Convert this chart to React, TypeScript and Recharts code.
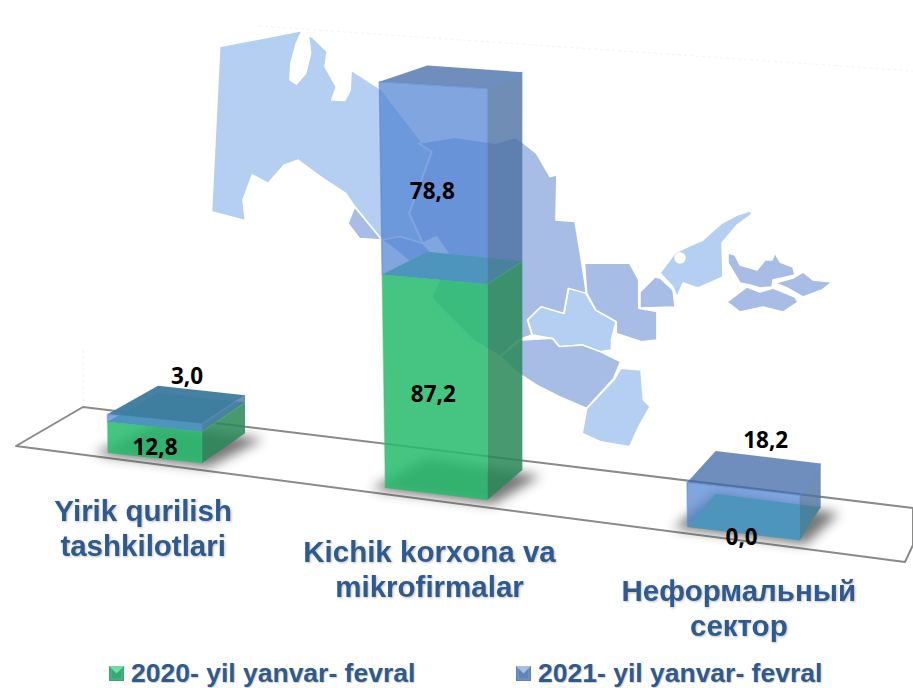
import React from 'react';
import { ComposedChart, Bar, XAxis, YAxis, Legend, LabelList } from 'recharts';

const categories = ['Yirik qurilish\ntashkilotlari', 'Kichik korxona va\nmikrofirmalar', 'Неформальный\nсектор'];
const series2020 = [12.8, 87.2, 0.0];
const series2021 = [3.0, 78.8, 18.2];

const chartData = categories.map((name, i) => ({ name, y2020: series2020[i], y2021: series2021[i] }));

const WIDTH = 913;
const HEIGHT = 688;
const AXIS_BOTTOM = 480;
const TEXT_BLUE = '#2f5a8f';

// perspective of the tilted floor, per category
const VIEW = [
  { shift: 0, scale: 0.94, floor: 453, slope: 0.108, depthX: 43, depthY: -30, tickDx: -12, tickDy: 41 },
  { shift: -13, scale: 1.02, floor: 488, slope: 0.118, depthX: 35, depthY: -30, tickDx: -20, tickDy: 82 },
  { shift: 0, scale: 1.12, floor: 527, slope: 0.118, depthX: 21, depthY: -33, tickDx: -5, tickDy: 121 },
];

// value label nudges relative to the centre of the segment's front face
const LABEL_2020 = [{ dx: 0, dy: 4 }, { dx: -3, dy: 6 }, { dx: -2, dy: 3 }];
const LABEL_2021 = [{ dx: 32, dy: -48 }, { dx: -4, dy: 6 }, { dx: 22, dy: -72 }];

const box = (x: number, y: number, width: number, height: number, index: number) => {
  const v = VIEW[index];
  const cx = x + width / 2 + v.shift;
  const w = width * v.scale;
  const off = v.floor - AXIS_BOTTOM;
  const corners = (py: number) => {
    const h = AXIS_BOTTOM - py;
    const slope = v.slope - h * 0.00014;
    const left = cx - w / 2 - h * 0.015;
    const right = cx + w / 2;
    const dy = v.depthY + h * 0.034;
    return {
      fl: [left, py + off],
      fr: [right, py + off + slope * (right - left)],
      br: [right + v.depthX, py + off + slope * (right - left) + dy],
      bl: [left + v.depthX + 7 + h * 0.015, py + off + dy],
    };
  };
  return { top: corners(y), bottom: corners(y + height), cx, off, w, slope: v.slope };
};

const pts = (...list: number[][]) => list.map((p) => p.join(',')).join(' ');

const Faces = ({ g, front, side, top, edge }: any) => (
  <g strokeLinejoin="round">
    <polygon points={pts(g.top.fr, g.bottom.fr, g.bottom.br, g.top.br)} fill={side} />
    <polygon points={pts(g.top.fl, g.top.fr, g.top.br, g.top.bl)} fill={top} />
    <polygon points={pts(g.top.fl, g.top.fr, g.bottom.fr, g.bottom.fl)} fill={front} />
    <polyline points={pts(g.bottom.fl, g.top.fl, g.top.fr, g.top.br)} fill="none" stroke={edge} strokeWidth={1.5} />
    <polyline points={pts(g.top.fr, g.bottom.fr)} fill="none" stroke={edge} strokeWidth={1} />
  </g>
);

const GreenBox = (props: any) => {
  const { x, y, width, height, index } = props;
  const g = box(x, y, width, height, index);
  const b = g.bottom;
  return (
    <g>
      <polygon
        points={pts([b.fl[0] - 14, b.fl[1] + 1], [b.fr[0] + 6, b.fr[1] + 4], [b.br[0] + 18, b.br[1] + 6], [b.bl[0], b.bl[1]])}
        fill="#3c3c3c"
        opacity={0.7}
        filter="url(#floorShadow)"
      />
      {height > 0 ? (
        <Faces g={g} front="rgba(39,188,108,0.86)" side="rgba(43,136,89,0.86)" top="#45c580" edge="rgba(60,190,125,0.4)" />
      ) : (
        <polygon points={pts(g.top.fl, g.top.fr, g.top.br, g.top.bl)} fill="#45c580" />
      )}
    </g>
  );
};

const BlueBox = (props: any) => {
  const { x, y, width, height, index } = props;
  const g = box(x, y, width, height, index);
  // a thin slab sits right on the green, so its lid reads darker
  const top = height < 12 ? 'rgba(62,124,160,0.96)' : 'rgba(63,103,167,0.75)';
  return <Faces g={g} front="rgba(80,130,210,0.72)" side="rgba(75,112,163,0.8)" top={top} edge="rgba(90,140,210,0.55)" />;
};

const valueLabel = (nudges: { dx: number; dy: number }[]) => (props: any) => {
  const { x, y, width, height, value, index } = props;
  const g = box(x, y, width, height, index);
  const n = nudges[index];
  const cy = y + height / 2 + g.off + (g.slope * g.w) / 2;
  return (
    <text
      x={g.cx + n.dx}
      y={cy + n.dy}
      textAnchor="middle"
      dominantBaseline="central"
      fontFamily="'Open Sans', sans-serif"
      fontWeight={700}
      fontSize={22.5}
      fill="#000"
    >
      {Number(value).toFixed(1).replace('.', ',')}
    </text>
  );
};

const CategoryTick = (props: any) => {
  const { x, payload, index } = props;
  const v = VIEW[index];
  return (
    <text
      x={x + v.tickDx}
      y={AXIS_BOTTOM + v.tickDy}
      textAnchor="middle"
      fontFamily="'Liberation Sans', Arial, sans-serif"
      fontWeight={700}
      fontSize={29.5}
      fill={TEXT_BLUE}
      style={{ filter: 'drop-shadow(1px 1px 1px rgba(0,0,0,0.25))' }}
    >
      {String(payload.value)
        .split('\n')
        .map((line, i) => (
          <tspan key={line} x={x + v.tickDx} dy={i === 0 ? 0 : 35}>
            {line}
          </tspan>
        ))}
    </text>
  );
};

const LEGEND_LEFT = [109, 516];

const LegendMarker = ({ light, dark }: { light: string; dark: string }) => (
  <svg width={15} height={15} style={{ position: 'absolute', left: 0, top: 8 }}>
    <rect width={15} height={15} fill={dark} />
    <polygon points="0,0 15,0 7.5,7.5" fill={light} />
    <polygon points="2,2 13,2 13,13 2,13" fill="none" stroke={light} strokeOpacity={0.4} />
  </svg>
);

const renderLegend = (props: any) => (
  <div>
    {(props.payload || []).map((item: any, i: number) => (
      <div key={item.value} style={{ position: 'absolute', left: LEGEND_LEFT[i], top: 0, whiteSpace: 'nowrap' }}>
        <LegendMarker light={i === 0 ? '#74dca6' : '#a3c0e6'} dark={i === 0 ? '#35a873' : '#5f84b8'} />
        <span
          style={{
            marginLeft: 22,
            fontFamily: "'Liberation Sans', Arial, sans-serif",
            fontWeight: 700,
            fontSize: 26.5,
            lineHeight: '30px',
            color: TEXT_BLUE,
            textShadow: '1px 1px 1px rgba(0,0,0,0.2)',
          }}
        >
          {item.value}
        </span>
      </div>
    ))}
  </div>
);

const MAP_LIGHT = [
  '43,110 225,62 212,100 200,160 198,210 212,222 232,190 243,130 238,75 250,85 280,125 275,170 300,230 290,270 318,272 330,240 332,180 400,240 490,400 510,425 460,610 490,700 440,680 400,690 340,590 320,550 265,500 215,450 185,465 150,520 115,495 95,570 100,632 25,605',
  '720,930 750,890 800,910 810,835 840,830 870,900 915,935 905,990 905,1020 880,1025 840,1005 790,1010 775,985 730,975',
  '925,1075 970,1080 975,1170 990,1190 965,1250 945,1310 880,1295 840,1270 850,1195 910,1110',
];
const MAP_DARK = [
  '480,400 560,382 650,400 695,382 740,430 770,500 785,495 783,630 825,635 840,760 850,850 810,835 800,910 750,890 720,930 730,975 700,990 660,1040 600,990 520,880 510,860 550,740 520,680 490,700 460,610 510,425',
  '325,640 340,590 400,690 440,680 490,700 530,760 500,800 430,720 400,690 350,685',
  '845,760 945,760 965,810 965,895 1005,905 1005,990 970,995 915,970 915,935 870,900 850,850',
  '705,990 775,985 790,1010 840,1005 880,1025 925,1055 910,1105 850,1195 790,1160 740,1125 700,1090 660,1040',
];
// eastern regions, in page pixels
const EAST_LIGHT = [
  '660,273 675,253 687,247 703,240 722,223 737,215 750,211 752,214 737,225 722,243 723,277 698,288 683,283 677,297 673,287',
];
const EAST_DARK = [
  '640,292 655,277 660,278 673,290 675,307 640,308',
  '728,253 735,255 740,265 757,270 765,260 772,260 775,253 780,262 793,267 795,275 773,280 772,287 760,288 750,285 740,283 728,263',
  '775,283 793,278 803,272 813,280 832,282 822,290 803,297 787,288',
  '727,302 747,287 760,292 773,288 795,297 798,302 783,312 763,307 740,312',
];

const Backdrop = () => (
  <svg width={WIDTH} height={HEIGHT} style={{ position: 'absolute', left: 0, top: 0 }}>
    <defs>
      <filter id="floorShadow" x="-30%" y="-30%" width="160%" height="160%">
        <feGaussianBlur stdDeviation="6" />
      </filter>
    </defs>
    <g transform="translate(200 10) scale(0.4548 0.3333)" stroke="#fff" strokeWidth={4} strokeLinejoin="round">
      {MAP_LIGHT.map((p) => (
        <polygon key={p} points={p} fill="#b5cff2" />
      ))}
      {MAP_DARK.map((p) => (
        <polygon key={p} points={p} fill="#a8bde6" />
      ))}
    </g>
    <g stroke="#fff" strokeWidth={1.5} strokeLinejoin="round">
      {EAST_LIGHT.map((p) => (
        <polygon key={p} points={p} fill="#b5cff2" />
      ))}
      {EAST_DARK.map((p) => (
        <polygon key={p} points={p} fill="#a8bde6" />
      ))}
      <circle cx={680} cy={258} r={5} fill="#fff" />
    </g>
    <polyline points="83,350 83,407" stroke="#f2f2f2" fill="none" strokeDasharray="3 3" />
    <polyline points="259,26 913,71" stroke="#f4f4f4" fill="none" strokeDasharray="3 3" />
    <polygon points="83,407 913,508 913,545 905,562 16,446" fill="none" stroke="#8a8a88" strokeWidth={2} strokeLinejoin="round" />
  </svg>
);

export default function App() {
  return (
    <div style={{ position: 'absolute', left: 0, top: 0, width: WIDTH, height: HEIGHT, overflow: 'hidden', background: '#fff' }}>
      <Backdrop />
      <div style={{ position: 'absolute', left: 0, top: 0 }}>
        <ComposedChart
          width={WIDTH}
          height={HEIGHT}
          data={chartData}
          margin={{ top: 64, right: 22, bottom: 148, left: 8 }}
          barCategoryGap={0}
        >
          <XAxis dataKey="name" axisLine={false} tickLine={false} interval={0} height={60} tick={CategoryTick} />
          <YAxis hide domain={[0, 170]} />
          <Legend content={renderLegend} wrapperStyle={{ position: 'absolute', left: 0, top: 658, width: WIDTH, height: 0 }} />
          <Bar dataKey="y2020" name="2020- yil yanvar- fevral" stackId="a" barSize={100} fill="#45c580" shape={GreenBox} isAnimationActive={false}>
            <LabelList dataKey="y2020" content={valueLabel(LABEL_2020)} />
          </Bar>
          <Bar dataKey="y2021" name="2021- yil yanvar- fevral" stackId="a" barSize={100} fill="#5f84b8" shape={BlueBox} isAnimationActive={false}>
            <LabelList dataKey="y2021" content={valueLabel(LABEL_2021)} />
          </Bar>
        </ComposedChart>
      </div>
    </div>
  );
}
